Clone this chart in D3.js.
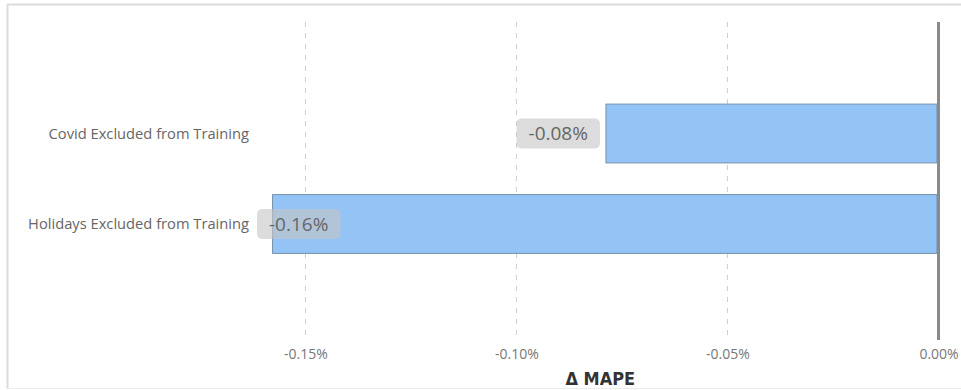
<!DOCTYPE html>
<html>
<head>
<meta charset="utf-8">
<script src="https://cdn.jsdelivr.net/npm/d3@7"></script>
<style>
  html, body { margin: 0; padding: 0; background: #fff; }
  svg { display: block; }
</style>
</head>
<body>
<svg id="chart" width="961" height="390"></svg>
<script>
// Change in MAPE when a period is left out of the training data
const categories = ["Covid Excluded from Training", "Holidays Excluded from Training"];
const deltaMape = [-0.0788, -0.1578];
const tickValues = [-0.15, -0.10, -0.05, 0.00];
const tickLabels = ["-0.15%", "-0.10%", "-0.05%", "0.00%"];
const axisTitle = "Δ MAPE";

const rows = categories.map((c, i) => ({ category: c, value: deltaMape[i] }));

const svg = d3.select("#chart");
const W = 961, H = 390;
const plot = { left: 258, right: 938.5, top: 22, bottom: 340 };
const fontBody = "'Open Sans', 'Noto Sans', sans-serif";

// panel frame
svg.append("line").attr("x1", 7).attr("x2", W).attr("y1", 4.5).attr("y2", 4.5)
  .attr("stroke", "#dcdcdc").attr("stroke-width", 2);
svg.append("line").attr("x1", 7.5).attr("x2", 7.5).attr("y1", 4).attr("y2", 389)
  .attr("stroke", "#dcdcdc").attr("stroke-width", 2);
svg.append("line").attr("x1", 7).attr("x2", W).attr("y1", 388.5).attr("y2", 388.5)
  .attr("stroke", "#ececec").attr("stroke-width", 1);

const x = d3.scaleLinear()
  .domain([-0.16125, 0])
  .range([plot.left, plot.right]);

const y = d3.scaleBand()
  .domain(categories)
  .range([43, 314.5])
  .paddingInner(0.35)
  .paddingOuter(0.675);

// dashed vertical gridlines
svg.append("g").selectAll("line")
  .data(tickValues.filter(v => v !== 0))
  .join("line")
  .attr("x1", d => Math.round(x(d)) + 0.5)
  .attr("x2", d => Math.round(x(d)) + 0.5)
  .attr("y1", plot.top).attr("y2", plot.bottom)
  .attr("stroke", "#cfcfcf")
  .attr("stroke-width", 1)
  .attr("stroke-dasharray", "5,6");

// x axis tick labels
const xAxis = d3.axisBottom(x)
  .tickValues(tickValues)
  .tickFormat((d, i) => tickLabels[i])
  .tickSize(0)
  .tickPadding(0);
const gx = svg.append("g")
  .attr("transform", `translate(0, 346)`)
  .call(xAxis);
gx.select(".domain").remove();
gx.selectAll("text")
  .attr("dy", "0.95em")
  .attr("fill", "#777")
  .style("font-family", fontBody)
  .style("font-size", "14px");

// axis title
svg.append("text")
  .attr("x", (plot.left + plot.right) / 2 + 2)
  .attr("y", 385)
  .attr("text-anchor", "middle")
  .attr("fill", "#333")
  .style("font-family", "'DejaVu Sans Condensed', 'DejaVu Sans', sans-serif")
  .style("font-weight", "bold")
  .style("font-size", "18px")
  .text(axisTitle);

// category labels
svg.append("g").selectAll("text")
  .data(rows)
  .join("text")
  .attr("x", 249)
  .attr("y", d => y(d.category) + y.bandwidth() / 2)
  .attr("dy", "0.35em")
  .attr("text-anchor", "end")
  .attr("fill", "#666")
  .style("font-family", fontBody)
  .style("font-size", "14.7px")
  .text(d => d.category);

// bars
svg.append("g").selectAll("rect")
  .data(rows)
  .join("rect")
  .attr("x", d => x(d.value))
  .attr("y", d => y(d.category))
  .attr("width", d => x(0) - x(d.value) - 1.5)
  .attr("height", y.bandwidth())
  .attr("fill", "#94c4f6")
  .attr("stroke", "#7591ad")
  .attr("stroke-width", 1);

// zero baseline
svg.append("line")
  .attr("x1", x(0)).attr("x2", x(0))
  .attr("y1", plot.top).attr("y2", plot.bottom)
  .attr("stroke", "#8a8a8a")
  .attr("stroke-width", 3);

// data labels in rounded boxes, pinned to the plot's left edge if they do not fit
const locale = d3.formatLocale({ decimal: ".", thousands: ",", grouping: [3], currency: ["", ""], minus: "-" });
const fmt = v => locale.format(".2f")(v) + "%";
const labels = svg.append("g").selectAll("g")
  .data(rows)
  .join("g");
labels.each(function(d) {
  const g = d3.select(this);
  const t = g.append("text")
    .attr("fill", "#666")
    .style("font-family", fontBody)
    .style("font-size", "19px")
    .attr("dy", "0.35em")
    .text(fmt(d.value));
  const tw = t.node().getComputedTextLength();
  const bw = tw + 24, bh = 30;
  let right = x(d.value) - 6;
  let left = Math.max(right - bw, plot.left - 1);
  const cy = y(d.category) + y.bandwidth() / 2;
  g.insert("rect", "text")
    .attr("x", left).attr("y", cy - bh / 2)
    .attr("width", bw).attr("height", bh)
    .attr("rx", 5).attr("ry", 5)
    .attr("fill", "#c4c4c4")
    .attr("fill-opacity", 0.6);
  t.attr("x", left + bw / 2).attr("y", cy).attr("text-anchor", "middle");
});
</script>
</body>
</html>
